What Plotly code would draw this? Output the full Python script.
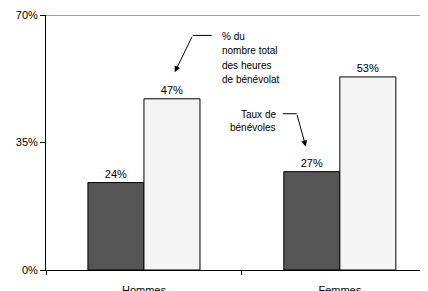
import plotly.graph_objects as go

categories = ["Hommes", "Femmes"]
taux_benevoles = [24, 27]
pct_heures = [47, 53]
y_ticks = [0, 35, 70]
y_tick_labels = ["0%", "35%", "70%"]
note_heures = ["% du", "nombre total", "des heures", "de bénévolat"]
note_taux = ["Taux de", "bénévoles"]

FONT = "Liberation Sans, Arial, sans-serif"

fig = go.Figure()
fig.add_trace(go.Bar(
    x=categories, y=taux_benevoles, name="Taux de bénévoles",
    marker=dict(color="#555555", line=dict(color="#000000", width=1)),
    texttemplate="%{y}%", textposition="outside",
    textfont=dict(family=FONT, size=11, color="#000000"),
    cliponaxis=False,
))
fig.add_trace(go.Bar(
    x=categories, y=pct_heures, name="% du nombre total des heures de bénévolat",
    marker=dict(color="#f4f4f4", line=dict(color="#000000", width=1)),
    texttemplate="%{y}%", textposition="outside",
    textfont=dict(family=FONT, size=11, color="#000000"),
    cliponaxis=False,
))

annotations = [
    dict(x=0.157, y=54.3, ax=0.249, ay=64.4, axref="x", ayref="y",
         xref="x", yref="y", text="", showarrow=True,
         arrowhead=2, arrowsize=1.2, arrowwidth=1, arrowcolor="#000000"),
    dict(x=0.826, y=33.9, ax=0.780, ay=42.9, axref="x", ayref="y",
         xref="x", yref="y", text="", showarrow=True,
         arrowhead=2, arrowsize=1.2, arrowwidth=1, arrowcolor="#000000"),
]
line_step = 14.6 * 70 / 255.5
for i, t in enumerate(note_heures):
    annotations.append(dict(
        x=0.387, y=64.2 - i * line_step, xref="x", yref="y",
        xanchor="left", yanchor="middle", text=t, showarrow=False,
        font=dict(family=FONT, size=10, color="#000000")))
for i, t in enumerate(note_taux):
    annotations.append(dict(
        x=0.685, y=42.7 - i * line_step * 0.9, xref="x", yref="y",
        xanchor="right", yanchor="middle", text=t, showarrow=False,
        font=dict(family=FONT, size=10, color="#000000")))

fig.update_layout(
    width=420, height=283,
    margin=dict(l=38, r=0, t=7, b=21),
    paper_bgcolor="white", plot_bgcolor="white",
    barmode="group", bargap=0.428, bargroupgap=0,
    showlegend=False,
    font=dict(family=FONT, size=11, color="#000000"),
    xaxis=dict(
        type="category", range=[-0.5, 1.45], automargin=False,
        showline=True, linecolor="#000000", linewidth=1,
        ticks="outside", tickson="boundaries", ticklen=4, tickcolor="#000000",
        showgrid=False, ticklabelstandoff=10,
        tickfont=dict(family=FONT, size=11, color="#000000"),
    ),
    yaxis=dict(
        range=[0, 70], tickvals=y_ticks, ticktext=y_tick_labels, automargin=False,
        showline=True, linecolor="#000000", linewidth=1,
        ticks="outside", ticklen=5, tickcolor="#000000",
        showgrid=False, zeroline=False,
        tickfont=dict(family=FONT, size=11, color="#000000"),
    ),
    shapes=[
        dict(type="line", xref="paper", yref="y", x0=0, x1=1, y0=70, y1=70,
             line=dict(color="#808080", width=1.5)),
        dict(type="line", xref="x", yref="y", x0=0.249, x1=0.346, y0=64.4, y1=64.4,
             line=dict(color="#000000", width=1)),
        dict(type="line", xref="x", yref="y", x0=0.709, x1=0.780, y0=42.9, y1=42.9,
             line=dict(color="#000000", width=1)),
    ],
    annotations=annotations,
)

fig.write_html("out.html")
